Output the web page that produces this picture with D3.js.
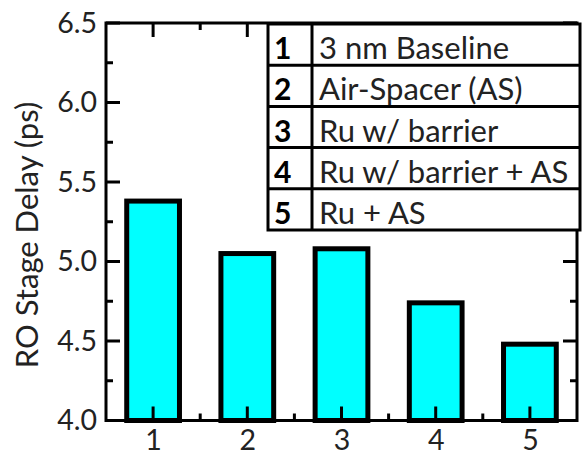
<!DOCTYPE html>
<html>
<head>
<meta charset="utf-8">
<script src="https://cdn.jsdelivr.net/npm/d3@7"></script>
<style>
  body { margin: 0; background: #fff; }
  svg text { font-family: Lato, "Open Sans", sans-serif; fill: #222; }
</style>
</head>
<body>
<svg id="chart"></svg>
<script>
// values
var categories = [1, 2, 3, 4, 5];
var delays = [5.38, 5.05, 5.08, 4.74, 4.48];
var legendLabels = ['3 nm Baseline', 'Air-Spacer (AS)', 'Ru w/ barrier', 'Ru w/ barrier + AS', 'Ru + AS'];
var yTicks = [4.0, 4.5, 5.0, 5.5, 6.0, 6.5];
var yMinorTicks = [4.25, 4.75, 5.25, 5.75, 6.25];
var xMinorTicks = [1.5, 2.5, 3.5, 4.5];

function drawChart(W, H) {
  var margin = {top: 23, right: 8, bottom: 38.5, left: 106},
    width = W - margin.left - margin.right,
    height = H - margin.top - margin.bottom;

  var svg = d3.select('#chart')
    .attr('width', W)
    .attr('height', H);

  var x = d3.scaleLinear().domain([0.5, 5.5]).range([0, width]);
  var y = d3.scaleLinear().domain([4.0, 6.5]).range([height, 0]);

  var g = svg.append('g')
    .attr('transform', 'translate(' + margin.left + ',' + margin.top + ')');

  // bars
  var barW = (x(2) - x(1)) * 0.56;
  g.selectAll('.bar')
    .data(delays)
    .enter().append('rect')
    .attr('class', 'bar')
    .attr('x', function(d, i) { return x(categories[i]) - barW / 2; })
    .attr('y', function(d) { return y(d); })
    .attr('width', barW)
    .attr('height', function(d) { return height - y(d); })
    .attr('fill', '#00ffff')
    .attr('stroke', '#000')
    .attr('stroke-width', 5);

  // frame
  g.append('rect')
    .attr('width', width)
    .attr('height', height)
    .attr('fill', 'none')
    .attr('stroke', '#000')
    .attr('stroke-width', 3);

  // tick labels from the axes
  function styleAxis(sel) {
    sel.selectAll('.domain').remove();
    sel.selectAll('.tick line').remove();
    sel.selectAll('.tick text').style('font-size', '28.5px');
  }
  g.append('g').attr('transform', 'translate(0,' + height + ')')
    .call(d3.axisBottom(x).tickValues(categories).tickSize(0).tickPadding(9).tickFormat(d3.format('d')))
    .call(styleAxis);
  g.append('g')
    .call(d3.axisLeft(y).tickValues(yTicks).tickSize(0).tickPadding(9).tickFormat(d3.format('.1f')))
    .call(styleAxis);

  // inward tick marks on all four sides
  var xTickMarks = categories.map(function(v) { return [v, 14]; })
    .concat(xMinorTicks.map(function(v) { return [v, 7]; }));
  var yTickMarks = yTicks.map(function(v) { return [v, 14]; })
    .concat(yMinorTicks.map(function(v) { return [v, 7]; }));
  function tickLine(sel) {
    sel.attr('stroke', '#000').attr('stroke-width', 3).attr('fill', 'none');
  }
  g.selectAll('.xb').data(xTickMarks).enter().append('line')
    .attr('class', 'xb')
    .attr('x1', function(d) { return x(d[0]); }).attr('x2', function(d) { return x(d[0]); })
    .attr('y1', height).attr('y2', function(d) { return height - d[1]; })
    .call(tickLine);
  g.selectAll('.xt').data(xTickMarks).enter().append('line')
    .attr('class', 'xt')
    .attr('x1', function(d) { return x(d[0]); }).attr('x2', function(d) { return x(d[0]); })
    .attr('y1', 0).attr('y2', function(d) { return d[1]; })
    .call(tickLine);
  g.selectAll('.yl').data(yTickMarks).enter().append('line')
    .attr('class', 'yl')
    .attr('y1', function(d) { return y(d[0]); }).attr('y2', function(d) { return y(d[0]); })
    .attr('x1', 0).attr('x2', function(d) { return d[1]; })
    .call(tickLine);
  g.selectAll('.yr').data(yTickMarks).enter().append('line')
    .attr('class', 'yr')
    .attr('y1', function(d) { return y(d[0]); }).attr('y2', function(d) { return y(d[0]); })
    .attr('x1', width).attr('x2', function(d) { return width - d[1]; })
    .call(tickLine);

  // axis title
  svg.append('text')
    .attr('transform', 'translate(38,235) rotate(-90)')
    .attr('text-anchor', 'middle')
    .style('font-size', '31px')
    .text('RO Stage Delay (ps)');

  // legend table
  var tx0 = 268, tx1 = 580, tcol = 312;
  var row = d3.scaleBand().domain(categories).range([24, 230]);
  var table = svg.append('g');
  table.append('rect')
    .attr('x', tx0).attr('y', 24)
    .attr('width', tx1 - tx0).attr('height', 230 - 24)
    .attr('fill', '#fff')
    .attr('stroke', '#000')
    .attr('stroke-width', 3);
  table.selectAll('.rowline')
    .data(categories.slice(1))
    .enter().append('line')
    .attr('x1', tx0).attr('x2', tx1)
    .attr('y1', function(d) { return row(d); })
    .attr('y2', function(d) { return row(d); })
    .attr('stroke', '#000')
    .attr('stroke-width', 3);
  table.append('line')
    .attr('x1', tcol).attr('x2', tcol)
    .attr('y1', 24).attr('y2', 230)
    .attr('stroke', '#000')
    .attr('stroke-width', 3);
  table.selectAll('.num')
    .data(categories)
    .enter().append('text')
    .attr('x', 274)
    .attr('y', function(d) { return row(d) + row.bandwidth() - 6; })
    .style('font-size', '30px')
    .style('font-weight', 'bold')
    .style('fill', '#000')
    .text(function(d) { return d; });
  table.selectAll('.lab')
    .data(legendLabels)
    .enter().append('text')
    .attr('x', 319)
    .attr('y', function(d, i) { return row(categories[i]) + row.bandwidth() - 6; })
    .style('font-size', '31px')
    .text(function(d) { return d; });
}

drawChart(585, 459);
</script>
</body>
</html>
